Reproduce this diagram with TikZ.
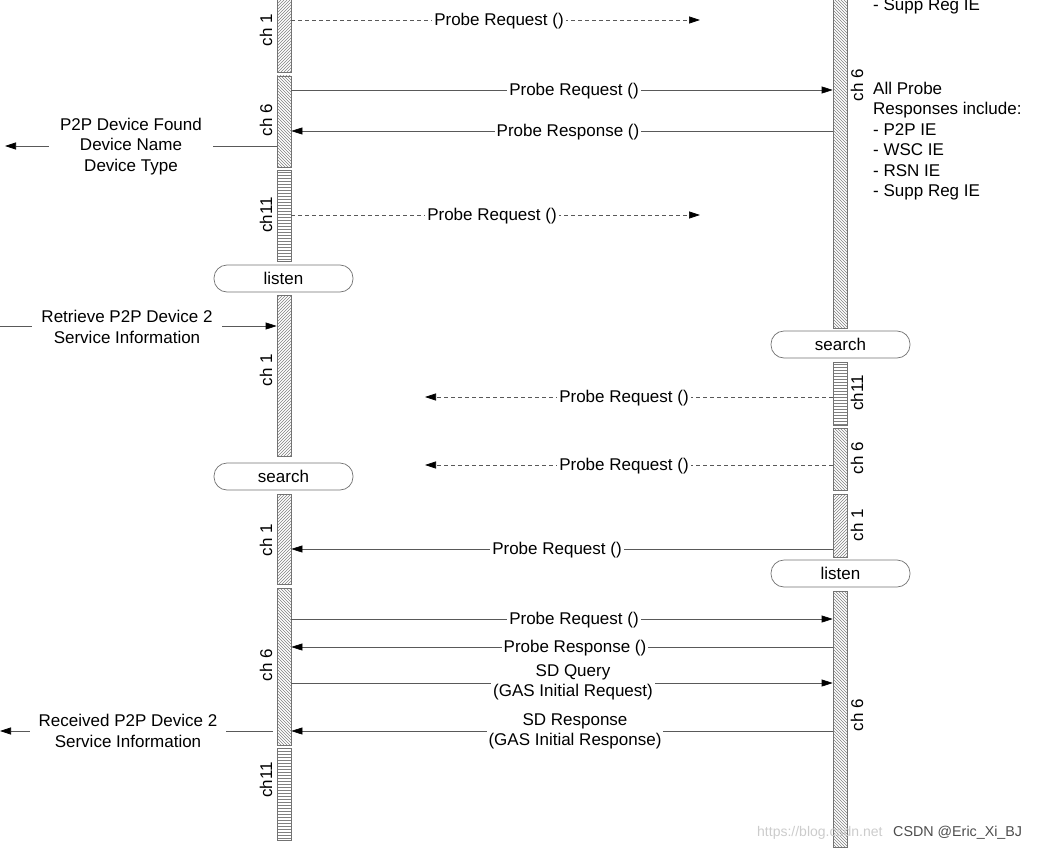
\documentclass[tikz,border=0pt]{standalone}
\usepackage{fontspec}
\setmainfont{Liberation Sans}
\usetikzlibrary{arrows.meta,patterns}
\begin{document}
\begin{tikzpicture}[x=1pt,y=-1pt,
  font=\fontsize{17}{20.5}\selectfont,
  bar/.style={draw=black!55, minimum width=14pt, inner sep=0pt, line width=0.7pt},
  hA/.style={bar, pattern=north east lines, pattern color=black!50},
  hB/.style={bar, pattern=north west lines, pattern color=black!50},
  hC/.style={bar, pattern=horizontal lines, pattern color=black!50},
  pill/.style={draw=black!55, rounded corners=13pt, minimum width=139pt, minimum height=27pt, inner sep=0pt, line width=0.7pt, fill=white},
  chl/.style={rotate=90, inner sep=0pt},
  tipA/.style={-{Triangle[length=11pt,width=7pt,color=black]}},
  msg/.style={draw=black!65, line width=0.7pt, tipA},
  dmsg/.style={msg, dash pattern=on 4pt off 3pt},
  lbl/.style={fill=white, inner xsep=2pt, inner ysep=0pt, align=center, yshift=-1.5pt},
  side/.style={fill=white, inner xsep=9pt, inner ysep=0pt, align=center, yshift=-1pt},
]
\useasboundingbox (0,0) rectangle (1038,848);
% ---- left lifeline ----
\node[hA, minimum height=80pt] (LA1) at (284,32) {};
\node[hB, minimum height=91pt] (LB1) at (284,121.5) {};
\node[hC, minimum height=91pt] (LC1) at (284,215.5) {};
\node[pill] (Llisten) at (283.5,278.5) {listen};
\node[hA, minimum height=161pt] (LA2) at (284,375.5) {};
\node[pill] (Lsearch) at (283.5,476.5) {search};
\node[hA, minimum height=90pt] (LA3) at (284,539) {};
\node[hB, minimum height=157pt] (LB2) at (284,666.5) {};
\node[hC, minimum height=92pt] (LC2) at (284,794) {};
\node[chl] (tLA1) at (266,30) {ch 1};
\node[chl] (tLB1) at (266,120) {ch 6};
\node[chl] (tLC1) at (266,215) {ch11};
\node[chl] (tLA2) at (266,370) {ch 1};
\node[chl] (tLA3) at (266,540) {ch 1};
\node[chl] (tLB2) at (266,665) {ch 6};
\node[chl] (tLC2) at (266,780) {ch11};
% ---- right lifeline ----
\node[hB, minimum height=336pt] (RB1) at (840,160) {};
\node[pill] (Rsearch) at (840.5,344.5) {search};
\node[hC, minimum height=63pt] (RC1) at (840,393.5) {};
\node[hB, minimum height=62pt] (RB2) at (840,459) {};
\node[hA, minimum height=63pt] (RA1) at (840,525.5) {};
\node[pill] (Rlisten) at (840.5,573.5) {listen};
\node[hB, minimum height=256pt] (RB3) at (840,719) {};
\node[chl] (tRB1) at (857,85) {ch 6};
\node[chl] (tRC1) at (857,393) {ch11};
\node[chl] (tRB2) at (857,458) {ch 6};
\node[chl] (tRA1) at (857,525) {ch 1};
\node[chl] (tRB3) at (857,715) {ch 6};
% ---- right notes ----
\node[anchor=base west, inner sep=0pt] (note0) at (873,11) {- Supp Reg IE};
\node[anchor=north west, inner sep=0pt, align=left] (note1) at (873,81.5) {All Probe\\Responses include:\\- P2P IE\\- WSC IE\\- RSN IE\\- Supp Reg IE};
% ---- free ends ----
\coordinate (e1) at (700,20);
\coordinate (e2) at (700,215);
\coordinate (e3) at (425,397);
\coordinate (e4) at (425,465);
\coordinate (o1) at (5,146);
\coordinate (o2) at (0,326);
\coordinate (o3) at (0,731);
% ---- messages ----
\draw[dmsg] (LA1.east |- e1) -- (e1);
\node[lbl] (m1) at (499,20) {Probe Request ()};
\draw[msg] (LB1.east |- 0,90) -- (RB1.west |- 0,90);
\node[lbl] (m2) at (574,90) {Probe Request ()};
\draw[msg] (RB1.west |- 0,131) -- (LB1.east |- 0,131);
\node[lbl] (m3) at (568,131) {Probe Response ()};
\draw[dmsg] (LC1.east |- e2) -- (e2);
\node[lbl] (m4) at (492,215) {Probe Request ()};
\draw[dmsg] (RC1.west |- e3) -- (e3);
\node[lbl] (m5) at (624,397) {Probe Request ()};
\draw[dmsg] (RB2.west |- e4) -- (e4);
\node[lbl] (m6) at (624,465) {Probe Request ()};
\draw[msg] (RA1.west |- 0,549) -- (LA3.east |- 0,549);
\node[lbl] (m7) at (557,549) {Probe Request ()};
\draw[msg] (LB2.east |- 0,619) -- (RB3.west |- 0,619);
\node[lbl] (m8) at (574,619) {Probe Request ()};
\draw[msg] (RB3.west |- 0,647) -- (LB2.east |- 0,647);
\node[lbl] (m9) at (575,647) {Probe Response ()};
\draw[msg] (LB2.east |- 0,683) -- (RB3.west |- 0,683);
\node[lbl] (m10) at (573,681) {SD Query\\(GAS Initial Request)};
\draw[msg] (RB3.west |- 0,731) -- (LB2.east |- 0,731);
\node[lbl] (m11) at (575,730) {SD Response\\(GAS Initial Response)};
% ---- side events ----
\draw[msg] (LB1.west |- o1) -- (o1);
\node[side, inner xsep=11pt] (s1) at (131,145.5) {P2P Device Found\\Device Name\\Device Type};
\draw[msg] (o2) -- (LA2.west |- o2);
\node[side] (s2) at (127,326) {Retrieve P2P Device 2\\Service Information};
\draw[msg, shorten <=4pt] (LB2.west |- o3) -- (o3);
\node[side] (s3) at (128,730) {Received P2P Device 2\\Service Information};
% ---- watermark ----
\node[anchor=base west, inner sep=0pt, font=\fontsize{14}{16}\selectfont, text=black!20] (wm1) at (757,836) {https://blog.csdn.net};
\node[anchor=base west, inner sep=0pt, font=\fontsize{14.3}{16}\selectfont, text=black!70] (wm2) at (893,836) {CSDN @Eric\_Xi\_BJ};
\end{tikzpicture}
\end{document}
